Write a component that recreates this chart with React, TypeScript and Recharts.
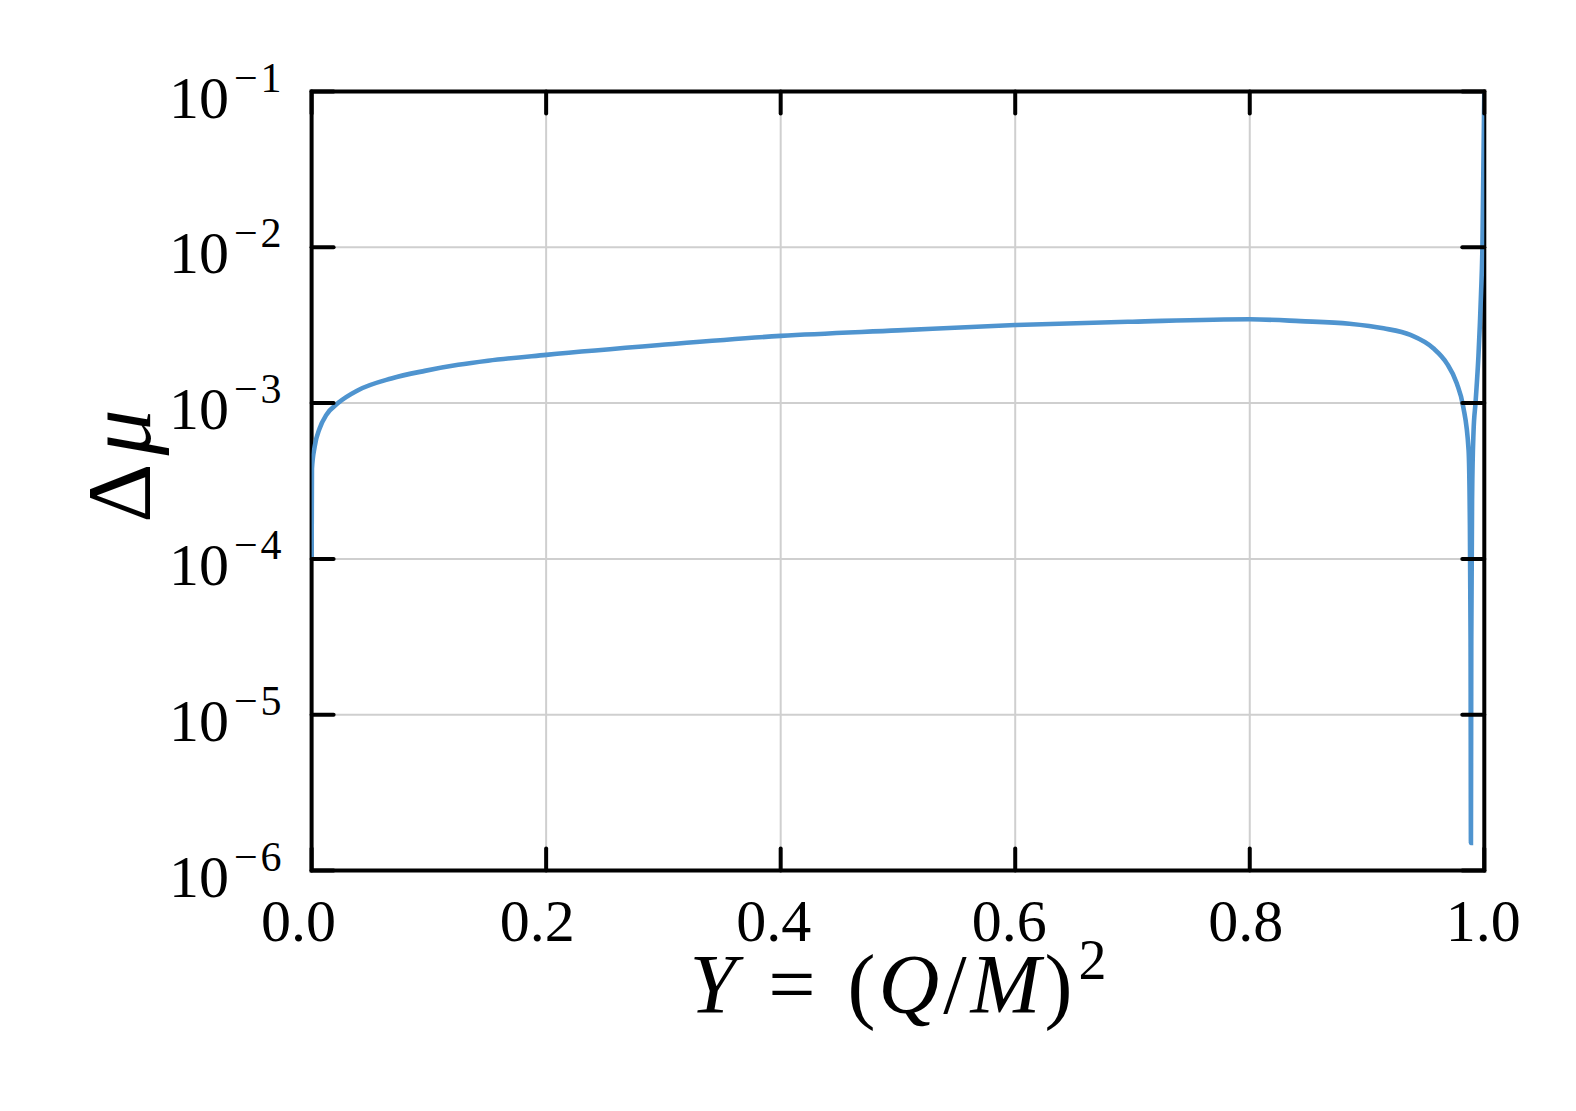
import React from "react";
import {
  LineChart,
  Line,
  XAxis,
  YAxis,
  CartesianGrid,
  ReferenceArea,
} from "recharts";

// ---- data ----
const Y_VALUES = [
  0.0, 0.0003, 0.0026, 0.0069, 0.0126, 0.0225, 0.0396, 0.068, 0.0965, 0.125,
  0.1504, 0.2, 0.297, 0.4, 0.5, 0.6, 0.7, 0.8, 0.843, 0.885, 0.914, 0.937,
  0.9565, 0.968, 0.9765, 0.982, 0.9866, 0.9876, 0.9883, 0.9886, 0.9889, 0.9896,
  0.9908, 0.9925, 0.995, 0.9972, 0.9984, 1.0,
];
const DELTA_MU = [
  1.0e-4, 3.8e-4, 5.25e-4, 6.9e-4, 8.4e-4, 1.0e-3, 1.21e-3, 1.44e-3, 1.61e-3,
  1.76e-3, 1.87e-3, 2.04e-3, 2.36e-3, 2.7e-3, 2.93e-3, 3.17e-3, 3.33e-3,
  3.45e-3, 3.36e-3, 3.23e-3, 3.02e-3, 2.74e-3, 2.25e-3, 1.8e-3, 1.34e-3,
  9.5e-4, 5.0e-4, 2.0e-4, 3.0e-5, 1.5e-6, 3.0e-5, 2.5e-4, 6.5e-4, 1.0e-3,
  2.0e-3, 5.0e-3, 1.0e-2, 1.0e-1,
];
const X_TICKS = [0, 0.2, 0.4, 0.6, 0.8, 1.0];
const X_TICK_LABELS = ["0.0", "0.2", "0.4", "0.6", "0.8", "1.0"];
const Y_TICKS = [1e-6, 1e-5, 1e-4, 1e-3, 1e-2, 1e-1];
const Y_TICK_EXPONENTS = ["−6", "−5", "−4", "−3", "−2", "−1"];

const data = Y_VALUES.map((y, i) => ({ y, mu: DELTA_MU[i] }));

// ---- layout ----
const W = 1576;
const H = 1111;
const MARGIN = { top: 91.5, right: 91.7, bottom: 180.5, left: 0 };
const Y_AXIS_W = 311.6;
const X_AXIS_H = 60;
const PLOT_TOP = MARGIN.top;
const PLOT_RIGHT = W - MARGIN.right;
const PLOT_LEFT = Y_AXIS_W;
const FONT = "'Liberation Serif', 'DejaVu Serif', serif";
const TICK_LEN = 22;
const LINE_COLOR = "#4f94cf";
const X_LABEL_DX = [-13, -9, -7, -6, -4, -1];

const XTick = (props: any) => {
  const { x, y, index } = props;
  return (
    <g>
      <line x1={x} y1={y} x2={x} y2={y - TICK_LEN} stroke="#000" strokeWidth={4} strokeLinecap="round" />
      <line x1={x} y1={PLOT_TOP} x2={x} y2={PLOT_TOP + TICK_LEN} stroke="#000" strokeWidth={4} strokeLinecap="round" />
      <text x={x + X_LABEL_DX[index]} y={y + 70} textAnchor="middle" fontFamily={FONT} fontSize={60} fill="#000">
        {X_TICK_LABELS[index]}
      </text>
    </g>
  );
};

const YTick = (props: any) => {
  const { x, y, index } = props;
  return (
    <g>
      <line x1={x} y1={y} x2={x + TICK_LEN} y2={y} stroke="#000" strokeWidth={4} strokeLinecap="round" />
      <line x1={PLOT_RIGHT} y1={y} x2={PLOT_RIGHT - TICK_LEN} y2={y} stroke="#000" strokeWidth={4} strokeLinecap="round" />
      <text x={x - 27} y={y + 26} textAnchor="end" fontFamily={FONT} fontSize={60} fill="#000">
        <tspan>10</tspan>
        <tspan dy={-26} fontSize={42} dx={5} letterSpacing={3}>{Y_TICK_EXPONENTS[index]}</tspan>
      </text>
    </g>
  );
};

export default function App() {
  const cx = (PLOT_LEFT + PLOT_RIGHT) / 2;
  const labelCy = 466;
  return (
    <div style={{ position: "absolute", left: 0, top: 0, width: W, height: H, background: "#fff" }}>
      <LineChart width={W} height={H} data={data} margin={MARGIN}>
        <CartesianGrid stroke="#cfcfcf" strokeWidth={2} />
        <XAxis
          dataKey="y"
          type="number"
          domain={[0, 1]}
          ticks={X_TICKS}
          interval={0}
          height={X_AXIS_H}
          axisLine={false}
          tickLine={false}
          tickSize={0}
          tickMargin={0}
          tick={<XTick />}
          allowDataOverflow
        />
        <YAxis
          type="number"
          scale="log"
          domain={[1e-6, 1e-1]}
          ticks={Y_TICKS}
          interval={0}
          width={Y_AXIS_W}
          axisLine={false}
          tickLine={false}
          tickSize={0}
          tickMargin={0}
          tick={<YTick />}
          allowDataOverflow
        />
        <ReferenceArea
          x1={0}
          x2={1}
          y1={1e-6}
          y2={1e-1}
          fill="none"
          fillOpacity={0}
          stroke="#000"
          strokeWidth={4}
          ifOverflow="visible"
        />
        <Line
          type="monotone"
          dataKey="mu"
          stroke={LINE_COLOR}
          strokeWidth={4.6}
          dot={false}
          activeDot={false}
          isAnimationActive={false}
        />
        <text
          x={cx}
          y={1013}
          textAnchor="middle"
          fontFamily={FONT}
          fontSize={84}
          fill="#000"
        >
          <tspan fontStyle="italic">Y</tspan>
          <tspan dx={32}>=</tspan>
          <tspan dx={32}>(</tspan>
          <tspan fontStyle="italic" dx={3}>Q</tspan>
          <tspan dx={4}>/</tspan>
          <tspan fontStyle="italic" dx={4}>M</tspan>
          <tspan dx={4}>)</tspan>
          <tspan dy={-34} fontSize={56} dx={6}>2</tspan>
        </text>
        <text
          x={150}
          y={labelCy}
          textAnchor="middle"
          fontFamily={FONT}
          fontSize={92}
          fill="#000"
          transform={`rotate(-90 150 ${labelCy})`}
        >
          <tspan>Δ</tspan>
          <tspan fontStyle="italic" dx={8}>μ</tspan>
        </text>
      </LineChart>
    </div>
  );
}
